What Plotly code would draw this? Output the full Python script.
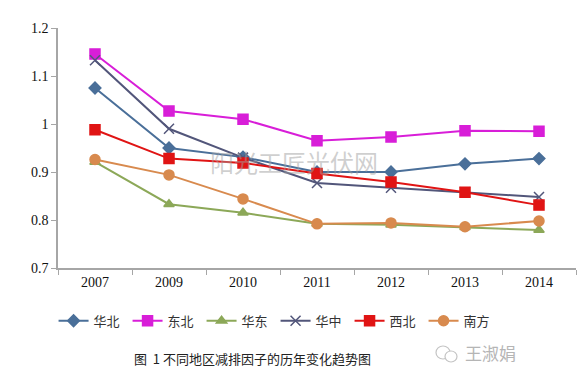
import plotly.graph_objects as go

years = ["2007", "2009", "2010", "2011", "2012", "2013", "2014"]
huabei = [1.075, 0.950, 0.931, 0.900, 0.900, 0.917, 0.928]
dongbei = [1.146, 1.027, 1.010, 0.965, 0.973, 0.986, 0.985]
huadong = [0.921, 0.833, 0.815, 0.792, 0.790, 0.785, 0.779]
huazhong = [1.133, 0.990, 0.930, 0.877, 0.867, 0.858, 0.848]
xibei = [0.988, 0.928, 0.919, 0.897, 0.879, 0.858, 0.831]
nanfang = [0.926, 0.894, 0.844, 0.792, 0.794, 0.786, 0.798]

series = [
    ("华北", huabei, "#4A6F99", "diamond", 9),
    ("东北", dongbei, "#D81ED8", "square", 10),
    ("华东", huadong, "#8CA858", "triangle-up", 9),
    ("华中", huazhong, "#52567A", "x-thin", 10),
    ("西北", xibei, "#E01414", "square", 10),
    ("南方", nanfang, "#D88A4E", "circle", 10),
]

fig = go.Figure()
for name, vals, color, sym, size in series:
    fig.add_trace(go.Scatter(
        x=years, y=vals, name=name, mode="lines+markers",
        line=dict(color=color, width=2),
        marker=dict(symbol=sym, size=size, color=color,
                    line=dict(color=color, width=1.5)),
    ))

serif = "Liberation Serif, Times New Roman, serif"
cjk = "Noto Sans CJK SC"

fig.update_layout(
    width=587, height=374,
    margin=dict(l=50, r=19, t=20, b=114),
    paper_bgcolor="white", plot_bgcolor="white",
    showlegend=True,
    legend=dict(orientation="h", x=0.42, xanchor="center", y=-0.22, yanchor="middle",
                font=dict(family=cjk, size=13, color="#333333"),
                itemwidth=30, tracegroupgap=0, entrywidth=29),
    xaxis=dict(type="category", range=[-0.5, 6.5], showline=True, linecolor="#A6A6A6",
               linewidth=1.5, ticks="outside", tickson="boundaries", ticklen=5,
               tickcolor="#A6A6A6", showgrid=False, zeroline=False,
               tickfont=dict(family=serif, size=14, color="#111111")),
    yaxis=dict(range=[0.7, 1.2], dtick=0.1, tick0=0.7, showline=True, linecolor="#A6A6A6",
               linewidth=1.5, ticks="outside", ticklen=5, tickcolor="#A6A6A6",
               showgrid=False, zeroline=False,
               tickfont=dict(family=serif, size=14, color="#111111")),
)

fig.add_annotation(text="阳光工匠光伏网", xref="paper", yref="paper", x=0.455, y=0.445,
                   xanchor="center", yanchor="middle",
                   showarrow=False, font=dict(family=cjk, size=24, color="rgba(160,160,160,0.5)"))
fig.add_annotation(text="图  1 不同地区减排因子的历年变化趋势图", xref="paper", yref="paper",
                   x=0.375, y=-0.378, xanchor="center", yanchor="middle", showarrow=False,
                   font=dict(family=cjk, size=13, color="#222222"))
fig.add_annotation(text="王淑娟", xref="paper", yref="paper", x=0.834, y=-0.354,
                   xanchor="center", yanchor="middle",
                   showarrow=False, font=dict(family=cjk, size=17, color="#B5B5B5"))
# small chat-bubble icon drawn as two outlined circles
fig.add_shape(type="circle", xref="paper", yref="paper",
              x0=(428 - 50) / 518, x1=(442 - 50) / 518,
              y0=(260 - 351) / 240, y1=(260 - 338) / 240,
              line=dict(color="#C4C4C4", width=1.2))
fig.add_shape(type="circle", xref="paper", yref="paper",
              x0=(437 - 50) / 518, x1=(449 - 50) / 518,
              y0=(260 - 354) / 240, y1=(260 - 343) / 240,
              line=dict(color="#C4C4C4", width=1.2), fillcolor="white")

fig.write_html("out.html")
